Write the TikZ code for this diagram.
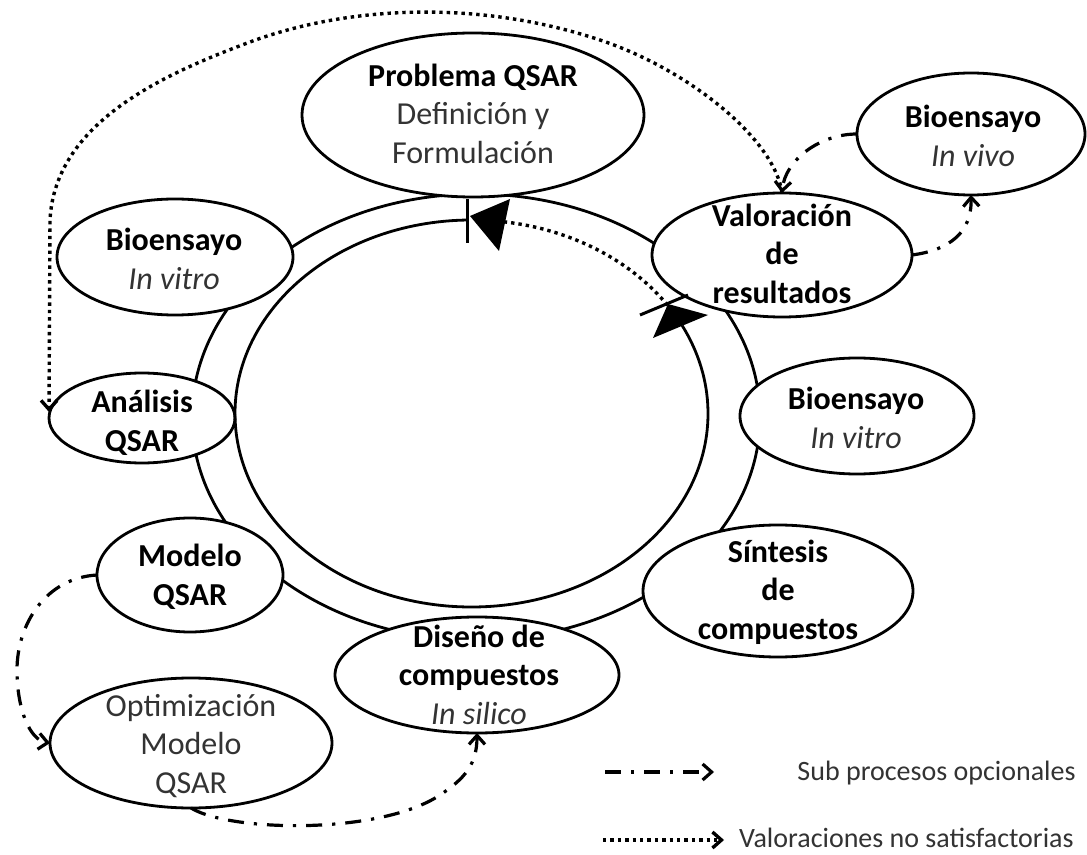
\documentclass[tikz,border=0pt]{standalone}
\usepackage{fontspec}
\setmainfont{Carlito}
\usetikzlibrary{shapes.geometric,arrows.meta}
\newcommand\rg[1]{\textcolor{black!80}{#1}}
\begin{document}
\begin{tikzpicture}[x=0.5pt,y=-0.5pt,
  oval/.style={ellipse, draw, line width=1.4pt, fill=white, inner sep=0pt, outer sep=0pt},
  txt/.style={align=center, font=\fontsize{16}{19.3}\selectfont, inner sep=0pt},
  legtxt/.style={anchor=east, font=\fontsize{14}{16}\selectfont, inner sep=0pt, text=black!80},
  ring/.style={line width=1.4pt},
  dd/.style={line width=1.6pt, dash pattern=on 8pt off 5pt on 1.6pt off 5pt},
  dt/.style={line width=1.7pt, dash pattern=on 1.7pt off 2pt},
  tip/.style={-{Straight Barb[length=4.5pt,width=8pt]}}]
\useasboundingbox (0,0) rectangle (1087,855);
\fill[white] (0,0) rectangle (1087,855);

% outer ring
\draw[ring] (476,417) ellipse [x radius=284, y radius=223];

% ellipses
\node[oval, minimum width=171pt, minimum height=82pt] (prob) at (473,115) {};
\node[oval, minimum width=114pt, minimum height=61pt] (vivo) at (971,134) {};
\node[oval, minimum width=130pt, minimum height=62pt] (val)  at (782,255) {};
\node[oval, minimum width=118pt, minimum height=58pt] (bvl)  at (175,257) {};
\node[oval, minimum width=93pt,  minimum height=45pt] (ana)  at (142,418) {};
\node[oval, minimum width=117pt, minimum height=58pt] (bvr)  at (857,416) {};
\node[oval, minimum width=135pt, minimum height=66pt] (sin)  at (778,591) {};
\node[oval, minimum width=93pt,  minimum height=57pt] (mod)  at (190,575) {};
\node[oval, minimum width=142pt, minimum height=58pt] (dis)  at (477,675) {};
\node[oval, minimum width=141pt, minimum height=65pt] (opt)  at (191,743) {};

% texts
\node[txt] (probT) at (473,117) {\strut\textbf{Problema QSAR}\\ \strut\rg{Definición y}\\ \strut\rg{Formulación}};
\node[txt] (vivoT) at (973,139) {\strut\textbf{Bioensayo}\\ \strut\rg{\textit{In vivo}}};
\node[txt] (valT)  at (782,257) {\strut\textbf{Valoración}\\ \strut\textbf{de}\\ \strut\textbf{resultados}};
\node[txt] (bvlT)  at (174,262) {\strut\textbf{Bioensayo}\\ \strut\rg{\textit{In vitro}}};
\node[txt] (anaT)  at (142,424) {\strut\textbf{Análisis}\\ \strut\textbf{QSAR}};
\node[txt] (bvrT)  at (856,421) {\strut\textbf{Bioensayo}\\ \strut\rg{\textit{In vitro}}};
\node[txt] (sinT)  at (778,593) {\strut\textbf{Síntesis}\\ \strut\textbf{de}\\ \strut\textbf{compuestos}};
\node[txt] (modT)  at (190,578) {\strut\textbf{Modelo}\\ \strut\textbf{QSAR}};
\node[txt] (disT)  at (479,678) {\strut\textbf{Diseño de}\\ \strut\textbf{compuestos}\\ \strut\rg{\textit{In silico}}};
\node[txt] (optT)  at (191,747) {\strut\rg{Optimización}\\ \strut\rg{Modelo}\\ \strut\rg{QSAR}};

% inner cycle
\coordinate (ic) at (471.5,413.5);
\draw[ring] (ic) ++(-91:236.5 and 193.5) arc[start angle=-91, end angle=-387, x radius=236.5, y radius=193.5];
\draw[dt] (ic) ++(-34:236.5 and 193.5) arc[start angle=-34, end angle=-82, x radius=236.5, y radius=193.5];
\fill (470,216) -- (510,199) -- (499,251) -- cycle;
\draw[line width=1.5pt] (467,199) -- (467,243);
\fill (668,304) -- (653,338) -- (708,315) -- cycle;
\draw[line width=1.5pt] (640,315) -- (688,295);

% optional sub-processes
\draw[dd,tip] (val.east) .. controls (950,250) and (972,232) .. (vivo.south);
\draw[dd,tip] (vivo.west) .. controls (820,134) and (785,160) .. (val.north);
\draw[dd,tip] (mod.west) .. controls (45,578) and (17,625) .. (17,670) .. controls (17,710) and (30,740) .. (opt.west);
\draw[dd,tip] (opt.south) .. controls (230,832) and (380,835) .. (440,795) .. controls (464,779) and (477,765) .. (dis.south);

% unsatisfactory evaluation
\draw[dt,tip] (val.north) .. controls (775,140) and (690,70) .. (600,40) .. controls (480,0) and (350,5) .. (250,42) .. controls (170,72) and (55,120) .. (50,220) -- ([yshift=3pt]ana.west);

% legend
\coordinate (l1a) at (605,772);
\coordinate (l1b) at (714,772);
\draw[dd,tip] (l1a) -- (l1b);
\node[legtxt] (leg1) at (1076,773) {Sub procesos opcionales};
\coordinate (l2a) at (603,840);
\coordinate (l2b) at (724,840);
\draw[dt,tip] (l2a) -- (l2b);
\node[legtxt] (leg2) at (1074,838) {Valoraciones no satisfactorias};
\end{tikzpicture}
\end{document}
